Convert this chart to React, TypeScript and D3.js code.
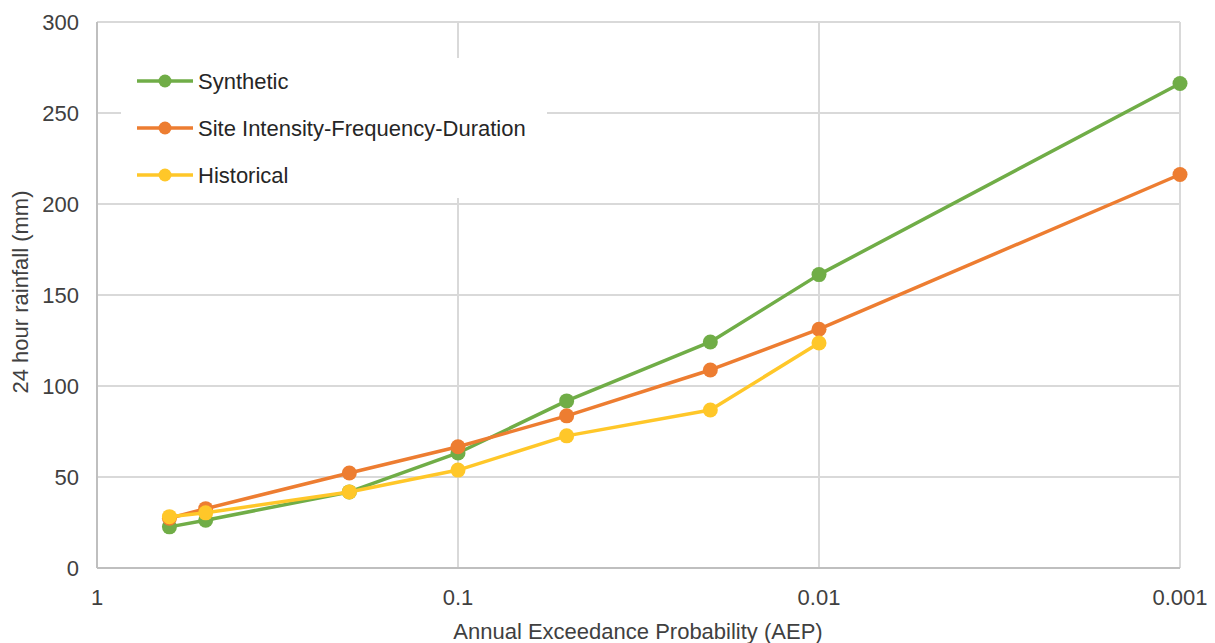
import React from "react";
import * as d3 from "d3";

const aep = [0.63, 0.5, 0.2, 0.1, 0.05, 0.02, 0.01, 0.001];
const synthetic = [22.6, 26.2, 41.8, 63.2, 91.8, 124.2, 161.2, 266.2];
const ifd = [27.3, 32.6, 52.2, 66.6, 83.6, 108.8, 131.2, 216.2];
const historical: (number | null)[] = [28.2, 30.3, 41.8, 53.8, 72.6, 86.8, 123.6, null];

const xTicks = [1, 0.1, 0.01, 0.001];
const xTickLabels = ["1", "0.1", "0.01", "0.001"];
const yTicks = [0, 50, 100, 150, 200, 250, 300];

const seriesNames = ["Synthetic", "Site Intensity-Frequency-Duration", "Historical"];
const seriesColors = ["#70AD47", "#ED7D31", "#FFC729"];

const W = 1215;
const H = 643;
const font = "'Liberation Sans', Arial, sans-serif";

export default function App() {
  const x = d3.scaleLog().domain([1, 0.001]).range([97, 1180]);
  const y = d3.scaleLinear().domain([0, 300]).range([568, 22]);
  const allSeries = [synthetic, ifd, historical];

  const line = d3
    .line<[number, number | null]>()
    .defined((d) => d[1] !== null)
    .x((d) => x(d[0]))
    .y((d) => y(d[1] as number));

  const legendY = [81, 128, 175];

  return (
    <svg
      width={W}
      height={H}
      style={{ position: "absolute", left: 0, top: 0, background: "#fff" }}
      fontFamily={font}
    >
      <rect x={0} y={0} width={W} height={H} fill="#fff" />
      {yTicks.filter((t) => t > 0).map((t) => (
        <line key={"h" + t} x1={x(1)} x2={x(0.001)} y1={y(t)} y2={y(t)} stroke="#d9d9d9" strokeWidth={2} />
      ))}
      {xTicks.filter((t) => t < 1).map((t) => (
        <line key={"v" + t} x1={x(t)} x2={x(t)} y1={y(0)} y2={y(300)} stroke="#d9d9d9" strokeWidth={2} />
      ))}
      <line x1={x(1)} x2={x(1)} y1={y(0)} y2={y(300)} stroke="#bfbfbf" strokeWidth={2} />
      <line x1={x(1)} x2={x(0.001)} y1={y(0)} y2={y(0)} stroke="#bfbfbf" strokeWidth={2} />

      {yTicks.map((t) => (
        <text key={"yl" + t} x={79} y={y(t)} dy="0.35em" textAnchor="end" fontSize={22} fill="#404040">
          {t}
        </text>
      ))}
      {xTicks.map((t, i) => (
        <text key={"xl" + t} x={x(t)} y={597} dy="0.35em" textAnchor="middle" fontSize={22} fill="#404040">
          {xTickLabels[i]}
        </text>
      ))}
      <text x={638} y={631} dy="0.35em" textAnchor="middle" fontSize={22} fill="#404040">
        Annual Exceedance Probability (AEP)
      </text>
      <text
        transform={`translate(20,292) rotate(-90)`}
        dy="0.35em"
        textAnchor="middle"
        fontSize={22}
        fill="#404040"
      >
        24 hour rainfall (mm)
      </text>

      <rect x={121} y={58} width={426} height={140} fill="#fff" />

      {allSeries.map((s, si) => {
        const pts: [number, number | null][] = aep.map((a, i) => [a, s[i]]);
        return (
          <g key={"s" + si}>
            <path d={line(pts) || ""} fill="none" stroke={seriesColors[si]} strokeWidth={3.5} strokeLinejoin="round" />
            {pts
              .filter((p) => p[1] !== null)
              .map((p, i) => (
                <circle key={i} cx={x(p[0])} cy={y(p[1] as number)} r={7.5} fill={seriesColors[si]} />
              ))}
          </g>
        );
      })}

      {seriesNames.map((n, i) => (
        <g key={"lg" + i}>
          <line x1={137} x2={193} y1={legendY[i]} y2={legendY[i]} stroke={seriesColors[i]} strokeWidth={3.5} />
          <circle cx={165} cy={legendY[i]} r={6.5} fill={seriesColors[i]} />
          <text x={198} y={legendY[i]} dy="0.35em" fontSize={22} fill="#262626">
            {n}
          </text>
        </g>
      ))}
    </svg>
  );
}
